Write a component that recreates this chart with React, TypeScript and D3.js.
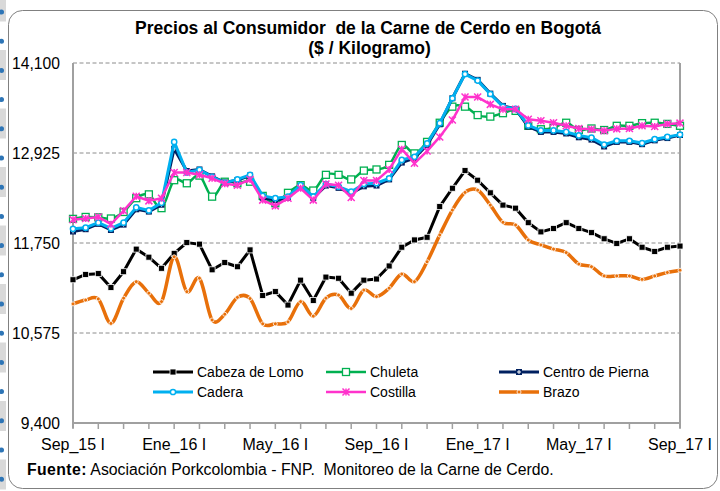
import React, { useEffect, useRef } from 'react';
import * as d3 from 'd3';

// quincenas, Sep 2015 - Sep 2017
const categories = [
  'Sep_15 I', 'Sep_15 II', 'Oct_15 I', 'Oct_15 II', 'Nov_15 I', 'Nov_15 II', 'Dic_15 I', 'Dic_15 II',
  'Ene_16 I', 'Ene_16 II', 'Feb_16 I', 'Feb_16 II', 'Mar_16 I', 'Mar_16 II', 'Abr_16 I', 'Abr_16 II',
  'May_16 I', 'May_16 II', 'Jun_16 I', 'Jun_16 II', 'Jul_16 I', 'Jul_16 II', 'Ago_16 I', 'Ago_16 II',
  'Sep_16 I', 'Sep_16 II', 'Oct_16 I', 'Oct_16 II', 'Nov_16 I', 'Nov_16 II', 'Dic_16 I', 'Dic_16 II',
  'Ene_17 I', 'Ene_17 II', 'Feb_17 I', 'Feb_17 II', 'Mar_17 I', 'Mar_17 II', 'Abr_17 I', 'Abr_17 II',
  'May_17 I', 'May_17 II', 'Jun_17 I', 'Jun_17 II', 'Jul_17 I', 'Jul_17 II', 'Ago_17 I', 'Ago_17 II',
  'Sep_17 I'
];

const cabezaLomo = [
  11270, 11340, 11350, 11170, 11375, 11670, 11565, 11420, 11615, 11755,
  11735, 11400, 11495, 11440, 11660, 11065, 11115, 10940, 11265, 11000,
  11305, 11290, 11095, 11265, 11280, 11450, 11695, 11790, 11825, 12225,
  12465, 12695, 12570, 12405, 12245, 12205, 12015, 11895, 11940, 12015,
  11940, 11885, 11805, 11745, 11805, 11695, 11640, 11695, 11710
];

const chuleta = [
  12065, 12090, 12085, 12070, 12155, 12335, 12385, 12205, 12570, 12530,
  12630, 12355, 12550, 12530, 12550, 12365, 12270, 12405, 12505, 12435,
  12640, 12640, 12580, 12695, 12710, 12770, 13030, 12920, 13070, 13320,
  13530, 13530, 13420, 13400, 13445, 13475, 13280, 13235, 13255, 13320,
  13225, 13245, 13225, 13280, 13280, 13315, 13320, 13305, 13280
];

const centroPierna = [
  11900, 11930, 12000, 11920, 11990, 12190, 12160, 12250, 12980, 12690,
  12710, 12620, 12540, 12570, 12630, 12340, 12310, 12340, 12490, 12340,
  12500, 12470, 12400, 12490, 12500, 12580, 12800, 12860, 13030, 13300,
  13640, 13960, 13880, 13700, 13540, 13500, 13270, 13200, 13200, 13180,
  13130, 13100, 13010, 13070, 13070, 13040, 13090, 13120, 13160
];

const cadera = [
  11935, 11950, 12015, 11940, 12015, 12215, 12175, 12275, 13070, 12670,
  12705, 12615, 12535, 12580, 12640, 12365, 12335, 12355, 12505, 12355,
  12520, 12485, 12420, 12520, 12530, 12595, 12835, 12875, 13050, 13315,
  13640, 13955, 13870, 13695, 13530, 13500, 13285, 13220, 13220, 13200,
  13155, 13125, 13035, 13085, 13085, 13055, 13105, 13135, 13165
];

const costilla = [
  12055, 12070, 12090, 11995, 12170, 12360, 12300, 12335, 12670, 12670,
  12640, 12595, 12525, 12505, 12580, 12310, 12235, 12335, 12465, 12310,
  12520, 12505, 12345, 12565, 12565, 12710, 12975, 12790, 12950, 13135,
  13355, 13655, 13655, 13560, 13495, 13495, 13365, 13345, 13320, 13280,
  13245, 13235, 13215, 13240, 13245, 13280, 13270, 13305, 13315
];

const brazo = [
  10955, 11005, 11020, 10700, 11030, 11245, 11095, 10985, 11570, 11115,
  11290, 10745, 10820, 11040, 11025, 10695, 10695, 10720, 10985, 10795,
  11030, 11070, 10895, 11135, 11050, 11160, 11345, 11245, 11505, 11855,
  12180, 12410, 12440, 12245, 12020, 11985, 11790, 11725, 11670, 11625,
  11475, 11440, 11320, 11320, 11320, 11275, 11320, 11365, 11395
];

const yTicks = [9400, 10575, 11750, 12925, 14100];
const xLabels = ['Sep_15 I', 'Ene_16 I', 'May_16 I', 'Sep_16 I', 'Ene_17 I', 'May_17 I', 'Sep_17 I'];

const series = [
  { name: 'Cabeza de Lomo', values: cabezaLomo, color: '#000000', width: 3, marker: 'square', smooth: false },
  { name: 'Chuleta', values: chuleta, color: '#00B050', width: 2.5, marker: 'openSquare', smooth: true },
  { name: 'Centro de Pierna', values: centroPierna, color: '#002060', width: 3, marker: 'crossSquare', smooth: false },
  { name: 'Cadera', values: cadera, color: '#00B0F0', width: 3, marker: 'circle', smooth: false },
  { name: 'Costilla', values: costilla, color: '#FF33CC', width: 2.5, marker: 'star', smooth: false },
  { name: 'Brazo', values: brazo, color: '#E8700A', width: 3.5, marker: 'dot', smooth: true }
];

const font = 'Arial, "Liberation Sans", sans-serif';
const plot = { left: 73, right: 680, top: 63, bottom: 423 };

const drawMarker = (g: any, type: string, color: string) => {
  if (type === 'square') {
    g.append('rect').attr('x', -3).attr('y', -3).attr('width', 6).attr('height', 6)
      .attr('fill', color).attr('stroke', '#fff').attr('stroke-width', 0.8);
  } else if (type === 'openSquare') {
    g.append('rect').attr('x', -3.5).attr('y', -3.5).attr('width', 7).attr('height', 7)
      .attr('fill', '#fff').attr('stroke', color).attr('stroke-width', 1.3);
  } else if (type === 'crossSquare') {
    g.append('rect').attr('x', -3).attr('y', -3).attr('width', 6).attr('height', 6).attr('fill', color);
    g.append('path').attr('d', 'M-2,0H2M0,-2V2').attr('stroke', '#fff').attr('stroke-width', 1);
  } else if (type === 'circle') {
    g.append('circle').attr('r', 2.6).attr('fill', '#fff').attr('stroke', color).attr('stroke-width', 1.5);
  } else if (type === 'star') {
    g.append('path').attr('d', 'M-3.5,-3.5L3.5,3.5M-3.5,3.5L3.5,-3.5M0,-3.5V3.5')
      .attr('stroke', color).attr('stroke-width', 1.5).attr('fill', 'none');
  } else {
    g.append('circle').attr('r', 2).attr('fill', color).attr('stroke', '#fff').attr('stroke-width', 0.8);
  }
};

export default function App() {
  const ref = useRef<SVGSVGElement>(null);

  useEffect(() => {
    const svg = d3.select(ref.current);
    svg.selectAll('*').remove();

    // page decoration on the left edge
    svg.append('g').selectAll('rect')
      .data(d3.range(-1, 8))
      .join('rect')
        .attr('x', 0).attr('width', 6)
        .attr('y', (d) => 50 + d * 58.5).attr('height', 30)
        .attr('fill', '#d9d9d9');
    svg.append('g').selectAll('circle')
      .data(d3.range(0, 17))
      .join('circle')
        .attr('cx', 1.5).attr('cy', (d) => 12 + d * 29.2).attr('r', 2.5)
        .attr('fill', '#2e75b6');

    // chart frame
    svg.append('rect')
      .attr('x', 8.5).attr('y', 10.5).attr('width', 709).attr('height', 478).attr('rx', 14)
      .attr('fill', '#fff').attr('stroke', '#808080').attr('stroke-width', 1);

    const x = d3.scalePoint().domain(categories).range([plot.left, plot.right]);
    const y = d3.scaleLinear().domain([9400, 14100]).range([plot.bottom, plot.top]);

    // title
    const title = svg.append('text')
      .attr('font-family', font).attr('font-weight', 'bold').attr('font-size', 17.5)
      .attr('text-anchor', 'middle').attr('fill', '#000')
      .style('white-space', 'pre');
    title.append('tspan').attr('x', 368).attr('y', 33.5).text('Precios al Consumidor  de la Carne de Cerdo en Bogotá');
    title.append('tspan').attr('x', 369.5).attr('y', 53.5).text('($ / Kilogramo)');

    // gridlines
    svg.append('g').selectAll('line')
      .data(yTicks.slice(1))
      .join('line')
        .attr('x1', plot.left).attr('x2', plot.right)
        .attr('y1', (d) => y(d)).attr('y2', (d) => y(d))
        .attr('stroke', '#8c8c8c').attr('stroke-width', 1).attr('stroke-dasharray', '4,2.5');

    // plot borders
    const border = svg.append('g').attr('stroke', '#a0a0a0').attr('stroke-width', 2);
    border.append('line').attr('x1', plot.right).attr('x2', plot.right).attr('y1', plot.top).attr('y2', plot.bottom + 5);
    border.append('line').attr('x1', plot.left).attr('x2', plot.left).attr('y1', plot.top).attr('y2', plot.bottom + 5);
    border.append('line').attr('x1', plot.left).attr('x2', plot.right + 1).attr('y1', plot.bottom).attr('y2', plot.bottom);

    // x ticks every month (two quincenas)
    svg.append('g').selectAll('line')
      .data(categories.filter((c, i) => i % 2 === 0))
      .join('line')
        .attr('x1', (d) => x(d)).attr('x2', (d) => x(d))
        .attr('y1', plot.bottom).attr('y2', plot.bottom + 6)
        .attr('stroke', '#a0a0a0').attr('stroke-width', 1.5);

    svg.append('g').selectAll('text')
      .data(xLabels)
      .join('text')
        .attr('x', (d) => x(d)).attr('y', 450)
        .attr('text-anchor', 'middle')
        .attr('font-family', font).attr('font-size', 16)
        .text((d) => d);

    svg.append('g').selectAll('text')
      .data(yTicks)
      .join('text')
        .attr('x', 60).attr('y', (d) => y(d) + 6)
        .attr('text-anchor', 'end')
        .attr('font-family', font).attr('font-size', 15.7)
        .text((d) => d3.format(',')(d));

    // series
    series.forEach((s) => {
      const line = d3.line<number>()
        .x((d, i) => x(categories[i]) as number)
        .y((d) => y(d))
        .curve(s.smooth ? d3.curveCatmullRom.alpha(0) : d3.curveLinear);

      svg.append('path')
        .datum(s.values)
        .attr('d', line)
        .attr('fill', 'none')
        .attr('stroke', s.color)
        .attr('stroke-width', s.width)
        .attr('stroke-linejoin', 'round');

      svg.append('g').selectAll('g')
        .data(s.values)
        .join('g')
          .attr('transform', (d, i) => `translate(${x(categories[i])},${y(d)})`)
          .each(function () { drawMarker(d3.select(this), s.marker, s.color); });
    });

    // legend
    const cols = [153, 326, 499];
    const rows = [372, 392];
    series.forEach((s, i) => {
      const lx = cols[i % 3];
      const ly = rows[Math.floor(i / 3)];
      const g = svg.append('g');
      g.append('line')
        .attr('x1', lx).attr('x2', lx + 40).attr('y1', ly).attr('y2', ly)
        .attr('stroke', s.color).attr('stroke-width', s.width);
      drawMarker(g.append('g').attr('transform', `translate(${lx + 20},${ly})`), s.marker, s.color);
      g.append('text')
        .attr('x', lx + 44).attr('y', ly + 5)
        .attr('font-family', font).attr('font-size', 14)
        .text(s.name);
    });

    // source
    const src = svg.append('text')
      .attr('x', 27).attr('y', 475)
      .attr('font-family', font).attr('font-size', 15.8)
      .style('white-space', 'pre');
    src.append('tspan').attr('font-weight', 'bold').attr('letter-spacing', 0.4).text('Fuente:');
    src.append('tspan').text(' Asociación Porkcolombia - FNP.  Monitoreo de la Carne de Cerdo.');
  }, []);

  return (
    <svg
      ref={ref}
      width={720}
      height={491}
      style={{ position: 'absolute', left: 0, top: 0, background: '#fff' }}
    />
  );
}
